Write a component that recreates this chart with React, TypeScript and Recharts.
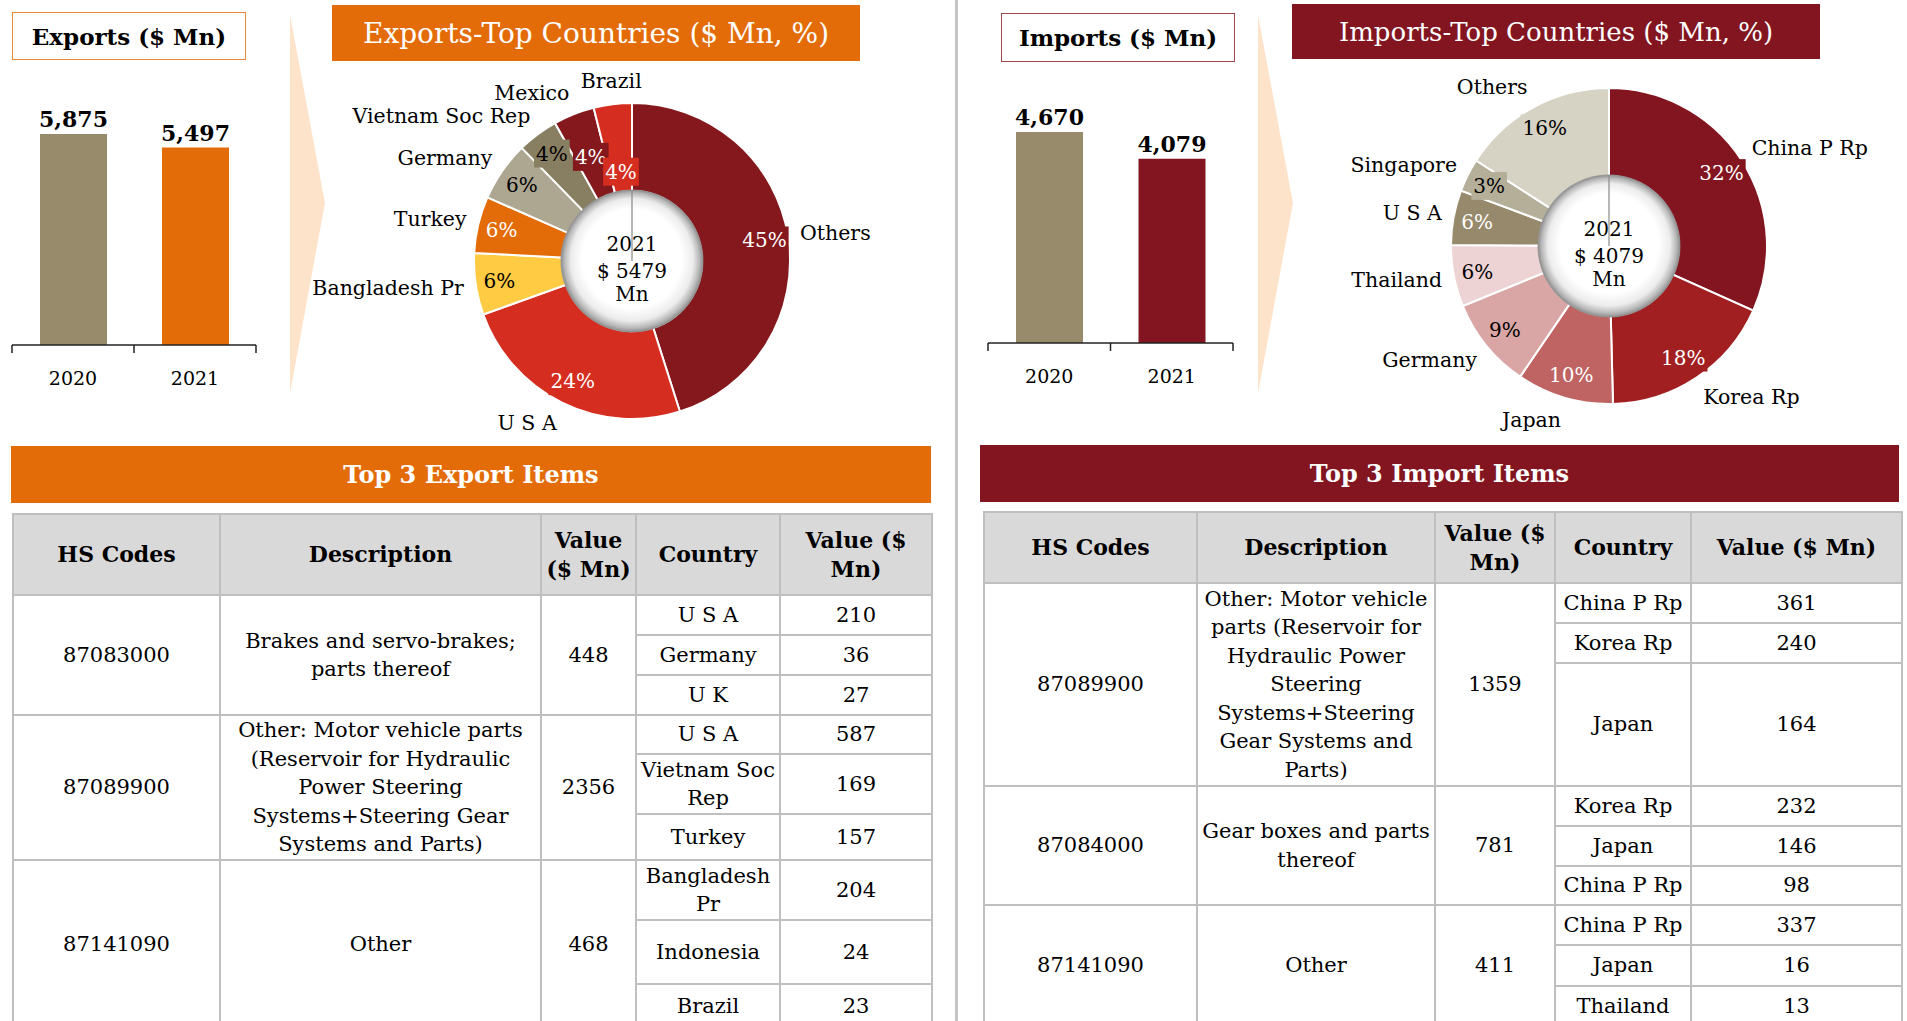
import React from "react";
import { BarChart, Bar, XAxis, YAxis, Cell, LabelList, PieChart, Pie } from "recharts";

const FONT = '"DejaVu Serif", Georgia, serif';

// yearly totals ($ Mn)
const years = ["2020", "2021"];
const exportTotals = [5875, 5497];
const importTotals = [4670, 4079];

// top countries, share of 2021 trade (%)
const exportCountries = ["Others", "U S A", "Bangladesh Pr", "Turkey", "Germany", "Vietnam Soc Rep", "Mexico", "Brazil"];
const exportShares = [45.1, 24.4, 6.3, 5.8, 6.1, 4.2, 4.2, 3.9];
const importCountries = ["China P Rp", "Korea Rp", "Japan", "Germany", "Thailand", "U S A", "Singapore", "Others"];
const importShares = [31.7, 17.9, 9.9, 9.3, 6.3, 5.6, 3.4, 15.9];
const pieYear = "2021";
const exportPieTotal = 5479;
const importPieTotal = 4079;

// top 3 export items
const exportCodes = ["87083000", "87089900", "87141090"];
const exportDescriptions = [
  "Brakes and servo-brakes;\nparts thereof",
  "Other: Motor vehicle parts\n(Reservoir for Hydraulic\nPower Steering\nSystems+Steering Gear\nSystems and Parts)",
  "Other",
];
const exportItemValues = [448, 2356, 468];
const exportPartners = [
  ["U S A", "Germany", "U K"],
  ["U S A", "Vietnam Soc\nRep", "Turkey"],
  ["Bangladesh\nPr", "Indonesia", "Brazil"],
];
const exportPartnerValues = [
  [210, 36, 27],
  [587, 169, 157],
  [204, 24, 23],
];

// top 3 import items
const importCodes = ["87089900", "87084000", "87141090"];
const importDescriptions = [
  "Other: Motor vehicle\nparts (Reservoir for\nHydraulic Power\nSteering\nSystems+Steering\nGear Systems and\nParts)",
  "Gear boxes and parts\nthereof",
  "Other",
];
const importItemValues = [1359, 781, 411];
const importPartners = [
  ["China P Rp", "Korea Rp", "Japan"],
  ["Korea Rp", "Japan", "China P Rp"],
  ["China P Rp", "Japan", "Thailand"],
];
const importPartnerValues = [
  [361, 240, 164],
  [232, 146, 98],
  [337, 16, 13],
];

const exportHeaders = ["HS Codes", "Description", "Value\n($ Mn)", "Country", "Value ($\nMn)"];
const importHeaders = ["HS Codes", "Description", "Value ($\nMn)", "Country", "Value ($ Mn)"];

// colours
const ORANGE = "#E36C09";
const MAROON = "#821520";
const KHAKI = "#978B6B";
const exportPieColors = ["#84181C", "#D52D1F", "#FFCB43", "#E36C09", "#ADA691", "#887E61", "#84181C", "#D52D1F"];
const exportPieInk = ["#fff", "#fff", "#000", "#fff", "#000", "#000", "#fff", "#fff"];
const importPieColors = ["#831520", "#A21F21", "#C06363", "#D9A6A5", "#EDD3D3", "#978A6C", "#B5AF9A", "#D6D2C4"];
const importPieInk = ["#fff", "#fff", "#fff", "#000", "#000", "#fff", "#000", "#000"];

// category label plus tick marks on the band edges
function YearTick(props: any) {
  const { x, y, payload, index, band } = props;
  return (
    <g>
      {index === 0 && <line x1={x - band / 2} x2={x - band / 2} y1={y} y2={y + 8} stroke="#222" strokeWidth={1.5} />}
      <line x1={x + band / 2} x2={x + band / 2} y1={y} y2={y + 8} stroke="#222" strokeWidth={1.5} />
      <text x={x} y={y + 33} textAnchor="middle" dominantBaseline="central" fontFamily={FONT} fontSize={19} fill="#000">
        {payload.value}
      </text>
    </g>
  );
}

function YearBars({ values, colors, left, top, width, marginTop, max, plotHeight }: any) {
  const data = years.map((y, i) => ({ year: y, value: values[i] }));
  return (
    <div style={{ position: "absolute", left, top }}>
      <BarChart width={width + 2} height={marginTop + plotHeight + 50} data={data} margin={{ top: marginTop, right: 1, bottom: 0, left: 1 }}>
        <XAxis
          dataKey="year"
          interval={0}
          tickSize={0}
          tickMargin={0}
          tickLine={false}
          axisLine={{ stroke: "#222", strokeWidth: 1.5 }}
          tick={<YearTick band={width / years.length} />}
          height={50}
        />
        <YAxis hide domain={[0, max]} />
        <Bar dataKey="value" barSize={67} isAnimationActive={false}>
          {data.map((d, i) => (
            <Cell key={d.year} fill={colors[i]} />
          ))}
          <LabelList
            dataKey="value"
            position="top"
            offset={7}
            formatter={(v: any) => Number(v).toLocaleString("en-US")}
            fill="#000"
            fontSize={22}
            fontWeight={700}
            fontFamily={FONT}
          />
        </Bar>
      </BarChart>
    </div>
  );
}

function SharePie({ names, shares, colors, inks, total, left, top }: any) {
  const data = names.map((n: string, i: number) => ({ name: n, value: shares[i] }));

  const renderLabel = (p: any) => {
    const { cx, cy, midAngle, outerRadius, index } = p;
    const rad = (-midAngle * Math.PI) / 180;
    const ux = Math.cos(rad);
    const uy = Math.sin(rad);
    // run of consecutive small slices gets staggered inward
    let k = 0;
    for (let j = index; j >= 0 && shares[j] < 5; j--) k++;
    const r = outerRadius - 24 - 22 * Math.max(0, k - 1);
    const px = cx + r * ux;
    const py = cy + r * uy;
    const pct = `${Math.round(shares[index])}%`;
    const boxW = (pct.length - 1) * 12.7 + 23;
    const R = outerRadius + 12;
    const nx = cx + R * ux;
    const ny = cy + R * uy + 11 * uy;
    const anchor = ux > 0.2 ? "start" : ux < -0.2 ? "end" : "middle";
    return (
      <g>
        <rect x={px - boxW / 2} y={py - 14} width={boxW} height={28} fill={colors[index]} />
        <text x={px} y={py} textAnchor="middle" dominantBaseline="central" fontFamily={FONT} fontSize={20} fill={inks[index]}>
          {pct}
        </text>
        <text x={nx} y={ny} textAnchor={anchor} dominantBaseline="central" fontFamily={FONT} fontSize={20.5} fill="#000">
          {names[index]}
        </text>
      </g>
    );
  };

  const renderCenter = (p: any) => {
    const { cx, cy } = p;
    const st = { fontFamily: FONT, fontSize: 20, fill: "#000", textAnchor: "middle" as const, dominantBaseline: "central" as const };
    return (
      <g>
        <text x={cx} y={cy - 17} {...st}>{pieYear}</text>
        <text x={cx} y={cy + 10} {...st}>{`$ ${total}`}</text>
        <text x={cx} y={cy + 33} {...st}>Mn</text>
      </g>
    );
  };

  return (
    <div style={{ position: "absolute", left, top }}>
      <PieChart width={720} height={400}>
        <Pie
          data={data}
          dataKey="value"
          nameKey="name"
          cx="50%"
          cy="50%"
          innerRadius={70}
          outerRadius={158}
          startAngle={90}
          endAngle={-270}
          stroke="#fff"
          strokeWidth={2}
          label={renderLabel}
          labelLine={false}
          isAnimationActive={false}
        >
          {data.map((d: any, i: number) => (
            <Cell key={d.name + i} fill={colors[i]} />
          ))}
        </Pie>
        <Pie
          data={[{ name: "hole", value: 1 }]}
          dataKey="value"
          cx="50%"
          cy="50%"
          innerRadius={0}
          outerRadius={71}
          startAngle={90}
          endAngle={-270}
          fill="url(#holeGrad)"
          stroke="#8f8f8f"
          strokeWidth={0.8}
          label={renderCenter}
          labelLine={false}
          isAnimationActive={false}
        />
      </PieChart>
    </div>
  );
}

function ItemsTable({ left, top, widths, headers, headerHeight, rowHeights, codes, descs, values, partners, partnerValues }: any) {
  const total = widths.reduce((a: number, b: number) => a + b, 0);
  const cell: React.CSSProperties = {
    border: "2px solid #BFBFBF",
    textAlign: "center",
    verticalAlign: "middle",
    padding: 0,
    whiteSpace: "pre",
    lineHeight: "28.5px",
    fontSize: 21,
    color: "#000",
  };
  return (
    <table
      style={{
        position: "absolute",
        left,
        top,
        width: total,
        borderCollapse: "collapse",
        tableLayout: "fixed",
        fontFamily: FONT,
      }}
    >
      <colgroup>
        {widths.map((w: number, i: number) => (
          <col key={i} style={{ width: w }} />
        ))}
      </colgroup>
      <thead>
        <tr style={{ height: headerHeight, background: "#D9D9D9" }}>
          {headers.map((h: string) => (
            <th key={h} style={{ ...cell, fontWeight: 700, fontSize: 22, lineHeight: "29px" }}>
              {h}
            </th>
          ))}
        </tr>
      </thead>
      <tbody>
        {codes.map((code: string, i: number) =>
          partners[i].map((p: string, j: number) => (
            <tr key={code + j} style={{ height: rowHeights[i][j] }}>
              {j === 0 && (
                <>
                  <td rowSpan={partners[i].length} style={cell}>{code}</td>
                  <td rowSpan={partners[i].length} style={cell}>{descs[i]}</td>
                  <td rowSpan={partners[i].length} style={cell}>{values[i]}</td>
                </>
              )}
              <td style={cell}>{p}</td>
              <td style={cell}>{partnerValues[i][j]}</td>
            </tr>
          ))
        )}
      </tbody>
    </table>
  );
}

const boxTitle = (color: string): React.CSSProperties => ({
  position: "absolute",
  boxSizing: "border-box",
  border: `1.5px solid ${color}`,
  background: "#fff",
  display: "flex",
  alignItems: "center",
  justifyContent: "center",
  fontFamily: FONT,
  fontWeight: 700,
  fontSize: 23,
  color: "#000",
});

const banner = (bg: string, bold: boolean, size: number): React.CSSProperties => ({
  position: "absolute",
  background: bg,
  color: "#fff",
  display: "flex",
  alignItems: "center",
  justifyContent: "center",
  fontFamily: FONT,
  fontWeight: bold ? 700 : 400,
  fontSize: size,
});

export default function App() {
  return (
    <div style={{ position: "absolute", left: 0, top: 0, width: 1907, height: 1021, overflow: "hidden", background: "#fff" }}>
      <svg width={0} height={0} style={{ position: "absolute" }}>
        <defs>
          <radialGradient id="holeGrad" cx="50%" cy="50%" r="50%" fx="50%" fy="44%">
            <stop offset="0%" stopColor="#ffffff" />
            <stop offset="70%" stopColor="#ffffff" />
            <stop offset="86%" stopColor="#ececec" />
            <stop offset="95%" stopColor="#b8b8b8" />
            <stop offset="100%" stopColor="#8d8d8d" />
          </radialGradient>
        </defs>
      </svg>

      {/* arrows */}
      <svg width={1907} height={420} style={{ position: "absolute", left: 0, top: 0 }}>
        <polygon points="290,15 325,203 290,393" fill="#FDE3CA" />
        <polygon points="1258,15 1293,203 1258,393" fill="#FDE3CA" />
      </svg>

      {/* divider */}
      <div style={{ position: "absolute", left: 955, top: 0, width: 3, height: 1021, background: "#C4C4C4" }} />

      <YearBars values={exportTotals} colors={[KHAKI, ORANGE]} left={11} top={80} width={244} marginTop={49.5} plotHeight={215.5} max={6000} />
      <YearBars values={importTotals} colors={[KHAKI, MAROON]} left={987} top={60} width={245} marginTop={57} plotHeight={226} max={5000} />

      <SharePie names={exportCountries} shares={exportShares} colors={exportPieColors} inks={exportPieInk} total={exportPieTotal} left={272} top={61} />
      <SharePie names={importCountries} shares={importShares} colors={importPieColors} inks={importPieInk} total={importPieTotal} left={1248.5} top={45.5} />

      <div style={{ ...boxTitle("#E8873E"), left: 12, top: 12, width: 234, height: 48 }}>Exports ($ Mn)</div>
      <div style={{ ...boxTitle("#A3474F"), left: 1001, top: 13, width: 234, height: 49 }}>Imports ($ Mn)</div>

      <div style={{ ...banner(ORANGE, false, 28), left: 332, top: 5, width: 528, height: 56 }}>Exports-Top Countries ($ Mn, %)</div>
      <div style={{ ...banner(MAROON, false, 26), left: 1292, top: 4, width: 528, height: 55 }}>Imports-Top Countries ($ Mn, %)</div>

      <div style={{ ...banner(ORANGE, true, 24), left: 11, top: 446, width: 920, height: 57 }}>Top 3 Export Items</div>
      <div style={{ ...banner(MAROON, true, 24), left: 980, top: 445, width: 919, height: 57 }}>Top 3 Import Items</div>

      <ItemsTable
        left={12}
        top={513}
        widths={[207, 321, 95, 144, 152]}
        headers={exportHeaders}
        headerHeight={81}
        rowHeights={[[40, 40, 40], [39, 60, 46], [60, 64, 44]]}
        codes={exportCodes}
        descs={exportDescriptions}
        values={exportItemValues}
        partners={exportPartners}
        partnerValues={exportPartnerValues}
      />
      <ItemsTable
        left={983}
        top={511}
        widths={[213, 238, 120, 136, 211]}
        headers={importHeaders}
        headerHeight={71}
        rowHeights={[[40, 40, 123], [40, 40, 39], [40, 41, 40]]}
        codes={importCodes}
        descs={importDescriptions}
        values={importItemValues}
        partners={importPartners}
        partnerValues={importPartnerValues}
      />
    </div>
  );
}
